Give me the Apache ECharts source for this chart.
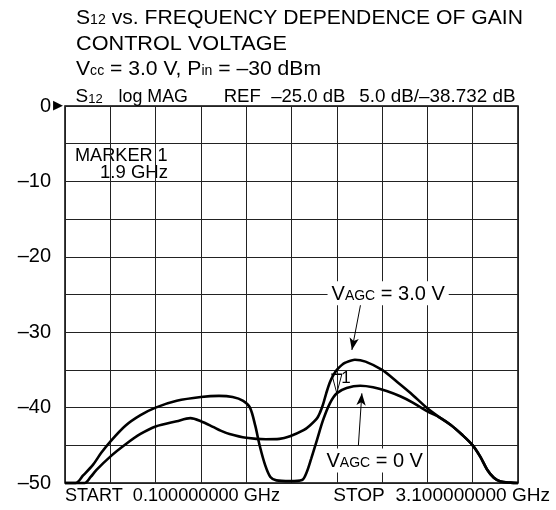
<!DOCTYPE html>
<html><head><meta charset="utf-8">
<script src="https://cdn.jsdelivr.net/npm/echarts@6/dist/echarts.min.js"></script>
<style>html,body{margin:0;padding:0;background:#fff}#c{width:556px;height:510px}</style>
</head><body><div id="c"></div><script>
// ---- data ----
const X_START = 0.1, X_STOP = 3.1, X_DIVS = 10;       // GHz, 0.3 GHz / div
const Y_MIN = -50, Y_MAX = 0, Y_STEP = 5;              // dB, 5 dB / div
const Y_LABELS = [0, -10, -20, -30, -40, -50];

// V_AGC = 0 V
const FREQ_V0 = [0.10,0.17,0.22,0.285,0.34,0.40,0.50,0.60,0.70,0.84,1.00,1.12,1.21,1.28,1.325,1.36,1.39,1.425,1.46,1.50,1.59,1.67,1.70,1.73,1.77,1.81,1.855,1.90,1.965,2.055,2.14,2.23,2.32,2.40,2.50,2.58,2.655,2.73,2.80,2.85,2.895,2.94,2.985,3.05,3.10];
const S12_V0  = [-50,-50,-49.0,-47.6,-46.0,-44.5,-42.4,-41.0,-40.0,-39.1,-38.6,-38.45,-38.6,-39.1,-40.0,-42.4,-45.1,-47.6,-49.2,-49.65,-49.75,-49.6,-48.6,-46.8,-44.2,-41.6,-39.4,-38.1,-37.4,-37.1,-37.3,-37.8,-38.5,-39.3,-40.5,-41.3,-42.3,-43.6,-45.0,-46.5,-48.2,-49.3,-49.8,-49.95,-50];

// V_AGC = 3.0 V
const FREQ_V3 = [0.10,0.23,0.27,0.307,0.40,0.506,0.60,0.70,0.84,0.93,1.00,1.08,1.13,1.19,1.30,1.43,1.52,1.59,1.68,1.72,1.77,1.79,1.81,1.83,1.855,1.88,1.90,1.93,1.955,2.02,2.09,2.20,2.30,2.39,2.50,2.58,2.655,2.73,2.80,2.85,2.895,2.94,2.985,3.05,3.10];
const S12_V3  = [-50,-50,-49.2,-48.3,-46.5,-44.8,-43.5,-42.5,-41.8,-41.4,-41.8,-42.55,-43.05,-43.5,-44.0,-44.2,-44.15,-43.8,-43.0,-42.4,-41.4,-40.6,-39.5,-38.1,-36.6,-35.6,-35.0,-34.4,-34.05,-33.65,-33.9,-35.0,-36.6,-38.1,-40.1,-41.3,-42.3,-43.6,-45.0,-46.5,-48.2,-49.3,-49.8,-49.95,-50];

const MARKER_FREQ = 1.9, MARKER_LEVEL = -38.1;
// annotation anchor points (data space)
const ARROW_V3 = [[2.061, -25.97], [2.0, -32.35]];
const ARROW_V0 = [[2.043, -44.99], [2.066, -38.11]];
const LABEL_V3 = [2.240, -24.84];
const LABEL_V0 = [2.151, -47.0];

const zip = (xs, ys) => xs.map((x, i) => [x, ys[i]]);
const FONT = '"Liberation Sans", Arial, Helvetica, sans-serif';
const chart = echarts.init(document.getElementById('c'), null, {renderer: 'canvas'});

// text measuring, used to fit texts to the spans seen in the reference
const mctx = document.createElement('canvas').getContext('2d');
function mw(text, size) { mctx.font = size + 'px ' + FONT; return mctx.measureText(text).width; }

// pieces: [[text, isSub], ...]
function textEl(x, y, pieces, size, sub, x2, align) {
  let w = 0, str = '';
  pieces.forEach(p => { w += mw(p[0], p[1] ? sub : size); str += '{' + (p[1] ? 's' : 'm') + '|' + p[0] + '}'; });
  const s = x2 != null ? Math.abs(x2 - x) / w : 1;
  return {type: 'text', x: x, y: y, scaleX: s, silent: true,
    style: {text: str, textAlign: align || 'left', textVerticalAlign: 'middle',
      rich: {
        m: {fontSize: size, fontFamily: FONT, color: '#000', verticalAlign: 'bottom', lineHeight: size + 2},
        s: {fontSize: sub, fontFamily: FONT, color: '#000', verticalAlign: 'bottom', lineHeight: size + 2, padding: [0, 0, 1, 0]}
      }}};
}
const T = (x, y, text, size, x2, align) => textEl(x, y, [[text, false]], size, size, x2, align);

const vagcRich = {
  v: {fontSize: 20, fontFamily: FONT, color: '#000', verticalAlign: 'bottom', lineHeight: 22},
  s: {fontSize: 14, fontFamily: FONT, color: '#000', verticalAlign: 'bottom', lineHeight: 22, padding: [0, 0, 1, 0]}
};

const option = {
  animation: false,
  backgroundColor: '#fff',
  grid: {left: 65, top: 106, right: 38, bottom: 27, containLabel: false, outerBoundsMode: 'none',
         show: true, borderColor: '#000', borderWidth: 1.5, backgroundColor: 'transparent'},
  xAxis: [
    {type: 'value', min: 0, max: X_DIVS, interval: 1, axisLabel: {show: false}, axisTick: {show: false},
     axisLine: {show: false}, splitLine: {show: true, lineStyle: {color: '#222', width: 1}}},
    {type: 'value', min: X_START, max: X_STOP, show: false}
  ],
  yAxis: {type: 'value', min: Y_MIN, max: Y_MAX, interval: Y_STEP,
    axisLine: {show: false}, axisTick: {show: false},
    splitLine: {show: true, lineStyle: {color: '#222', width: 1}},
    axisLabel: {margin: 2, color: '#000',
      formatter: v => {
        if (!Y_LABELS.includes(v)) return '';
        if (v === 0) return '{n|0}{s|}{t|▶}';
        return '{n|–' + Math.abs(v) + '}{g|}';
      },
      rich: {
        n: {fontSize: 20, fontFamily: FONT, color: '#000'},
        s: {width: 2},
        t: {fontSize: 13, fontFamily: '"DejaVu Sans"', color: '#000', width: 10, align: 'left'},
        g: {width: 12}
      }}
  },
  series: [
    {name: 'VAGC = 0 V', type: 'line', xAxisIndex: 1, data: zip(FREQ_V0, S12_V0),
     smooth: 0.3, showSymbol: false, clip: false,
     lineStyle: {color: '#000', width: 2.6}, z: 5,
     markPoint: {silent: true, data: [
       {coord: [MARKER_FREQ, MARKER_LEVEL], symbol: 'path://M0,0 L10,0 L5,19 Z', symbolSize: [10, 19],
        symbolOffset: [0, '-50%'], itemStyle: {color: 'rgba(0,0,0,0)', borderColor: '#000', borderWidth: 1.2},
        label: {show: true, formatter: '1', position: [10, -4], fontSize: 17, fontFamily: FONT, color: '#000',
                align: 'left', verticalAlign: 'top'}},
       {coord: LABEL_V0, symbol: 'circle', symbolSize: 1, itemStyle: {color: 'rgba(0,0,0,0)'},
        label: {show: true, position: 'inside', formatter: '{v|V}{s|AGC}{v| = 0 V}', rich: vagcRich,
                backgroundColor: '#fff', padding: [1, 3, 1, 3]}},
       {coord: LABEL_V3, symbol: 'circle', symbolSize: 1, itemStyle: {color: 'rgba(0,0,0,0)'},
        label: {show: true, position: 'inside', formatter: '{v|V}{s|AGC}{v| = 3.0 V}', rich: vagcRich,
                backgroundColor: '#fff', padding: [1, 4, 1, 4]}}
     ]},
     markLine: {silent: true, animation: false, symbol: ['none', 'arrow'], symbolSize: [7, 12],
       lineStyle: {color: '#000', width: 1, type: 'solid'}, label: {show: false},
       data: [
         [{coord: ARROW_V3[0]}, {coord: ARROW_V3[1]}],
         [{coord: ARROW_V0[0]}, {coord: ARROW_V0[1]}]
       ]}
    },
    {name: 'VAGC = 3.0 V', type: 'line', xAxisIndex: 1, data: zip(FREQ_V3, S12_V3),
     smooth: 0.3, showSymbol: false, clip: false,
     lineStyle: {color: '#000', width: 2.6}, z: 4}
  ],
  graphic: [
    textEl(76, 17, [['S', false], ['12', true], [' vs. FREQUENCY DEPENDENCE OF GAIN', false]], 21, 14, 523),
    T(76, 43, 'CONTROL VOLTAGE', 21, 287),
    textEl(76, 68, [['V', false], ['cc', true], [' = 3.0 V, P', false], ['in', true], [' = –30 dBm', false]], 21, 14, 321),
    textEl(75.5, 96, [['S', false], ['12', true]], 19, 13),
    T(118.6, 96, 'log MAG', 19, 188),
    T(223.7, 96, 'REF  –25.0 dB', 19, 345.5),
    T(359.3, 96, '5.0 dB/–38.732 dB', 19, 515.5),
    T(75, 155, 'MARKER 1', 18, 167.7),
    T(100, 172, '1.9 GHz', 18, 168),
    T(65, 495, 'START  0.100000000 GHz', 19, 280),
    T(333.3, 495, 'STOP  3.100000000 GHz', 19, 550)
  ]
};
chart.setOption(option);
</script></body></html>
